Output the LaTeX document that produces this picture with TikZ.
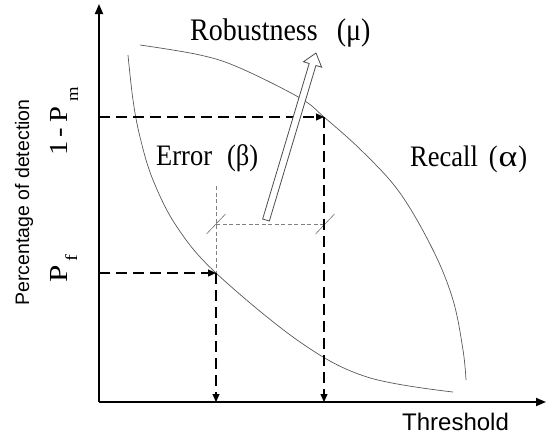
\documentclass[tikz,border=0pt]{standalone}
\usepackage{fontspec}
\setmainfont{Liberation Serif}
\setsansfont{Liberation Sans}
\usetikzlibrary{arrows.meta,calc}
\tikzset{
  axisline/.style={line width=1.8pt,-{Triangle[length=10pt,width=8pt]}},
  curveline/.style={line width=0.7pt,draw=black!65},
  dashline/.style={line width=1.1pt,dash pattern=on 11pt off 6pt,-{Triangle[length=8pt,width=7pt]}},
  guideline/.style={line width=0.8pt,draw=black!50,dash pattern=on 4pt off 2.5pt},
  tickline/.style={line width=0.6pt,draw=black!55},
  serif/.style={inner sep=0pt,font=\fontsize{26.5}{30}\selectfont},
  sans/.style={inner sep=0pt,font=\sffamily\fontsize{24}{28}\selectfont},
  hollowarrow/.style={line width=0.8pt,draw=black!70,fill=white}
}
\begin{document}
\begin{tikzpicture}[x=1pt,y=-1pt]
\useasboundingbox (0,0) rectangle (546,434);
% key points
\coordinate (o) at (99,402);
\coordinate (ytop) at (99,4);
\coordinate (xend) at (546,402);
\coordinate (pm) at (324,117);
\coordinate (pf) at (216,273);
\coordinate (ym) at (o |- pm);
\coordinate (yf) at (o |- pf);
\coordinate (xm) at (o -| pm);
\coordinate (xf) at (o -| pf);
\coordinate (gtop) at (216,186);
\coordinate (ga) at (216,224);
\coordinate (gb) at (325,224);
% curves
\draw[curveline] plot[smooth,tension=0.6] coordinates {(128,55) (133,100) (140,137) (153,180) (177,227) (pf) (300,342) (367,377) (453,392)};
\draw[curveline] plot[smooth,tension=0.6] coordinates {(140,45) (200,55) (240,68) (300,98) (pm) (363,152) (400,193) (433,250) (453,300) (463,350) (466,380)};
% guide lines
\draw[guideline] (gtop) -- (pf);
\draw[guideline] (ga) -- (gb);
\draw[tickline] ($(ga)+(-9.5,10)$) -- ($(ga)+(9.5,-10)$);
\draw[tickline] ($(gb)+(-9.5,10)$) -- ($(gb)+(9.5,-10)$);
% dashed projections
\draw[dashline] (ym) -- (pm);
\draw[dashline] (pm) -- (xm);
\draw[dashline] (yf) -- (pf);
\draw[dashline] (pf) -- (xf);
% hollow arrow
\coordinate (rt) at (266,220);
\coordinate (rh) at (316,53);
\coordinate (hb) at ($(rh)!12pt!(rt)$);
\draw[hollowarrow] ($(rt)!3.5pt!90:(rh)$) -- ($(hb)!3.5pt!-90:(rt)$) -- ($(hb)!9.5pt!-90:(rt)$) -- (rh) -- ($(hb)!9.5pt!90:(rt)$) -- ($(hb)!3.5pt!90:(rt)$) -- ($(rt)!3.5pt!-90:(rh)$) -- cycle;
% axes
\draw[axisline] (o) -- (ytop);
\draw[axisline] (o) -- (xend);
% labels
\node[serif,anchor=base west] (lrob) at (190,40) {\scalebox{1}[1.12]{\fontsize{28}{32}\selectfont Robustness\hspace{19pt}(μ)}};
\node[serif,anchor=base west] (lerr) at (156,165) {\scalebox{1}[1.12]{Error\hspace{15pt}(β)}};
\node[serif,anchor=base west] (lrec) at (410,166) {\scalebox{1}[1.12]{Recall\hspace{11pt}(\hspace{1pt}\scalebox{1.35}[1]{α}\hspace{1pt})}};
\node[serif,anchor=base west,rotate=90,font=\fontsize{26}{30}\selectfont] (lpm) at (67,156) {\scalebox{1.1}[1]{1\hspace{4pt}-\hspace{5pt}P\hspace{4pt}\raisebox{-11pt}{\fontsize{17}{17}\selectfont m}}};
\node[serif,anchor=base west,rotate=90,font=\fontsize{26}{30}\selectfont] (lpf) at (67,283) {\scalebox{1.2}[1]{P\hspace{3pt}\raisebox{-10pt}{\fontsize{17}{17}\selectfont f}}};
\node[sans,anchor=base,rotate=90,font=\sffamily\fontsize{19.5}{22}\selectfont] (lpd) at (29,202.5) {Percentage of detection};
\node[sans,anchor=base west] (lth) at (402,430) {Threshold};
\end{tikzpicture}
\end{document}
